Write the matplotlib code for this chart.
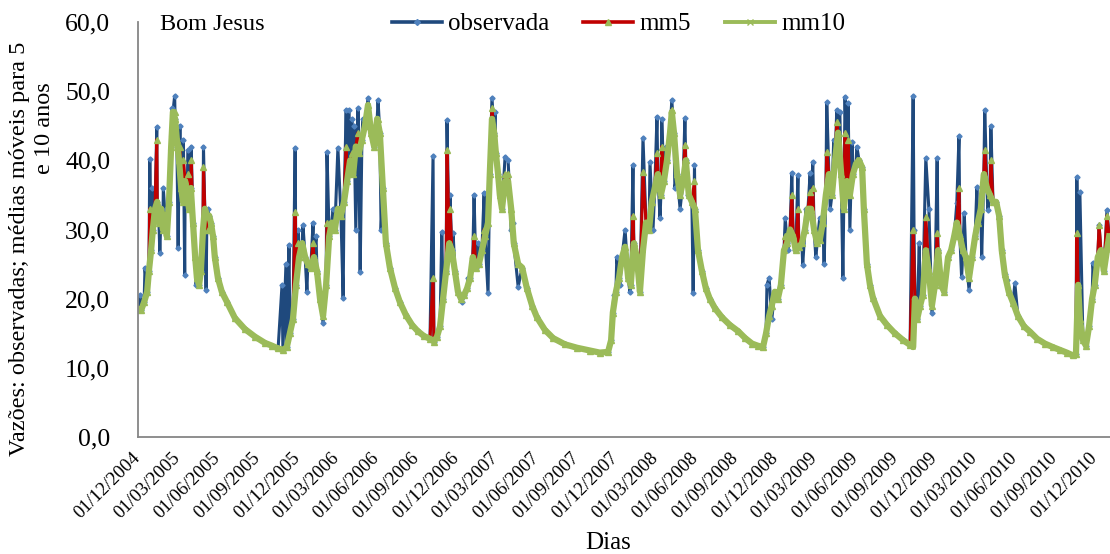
import numpy as np
import matplotlib
matplotlib.use("Agg")
import matplotlib.pyplot as plt
from matplotlib.lines import Line2D

plt.rcParams['font.family'] = ['Liberation Serif', 'DejaVu Serif']

# ---- data: days since 01/12/2004 ----
inicio = np.datetime64('2004-12-01')

# mm10 (smooth band)
dias_mm10 = [0, 7, 14, 21, 25, 30, 34, 39, 44, 48, 53, 57, 62, 66, 71, 76, 80, 85, 89, 94, 99, 103, 108, 112, 117, 121, 126, 131, 135, 140, 144, 149, 153, 158, 163, 167, 172, 176, 183, 192, 204, 222, 245, 268, 291, 307, 321, 332, 341,
             348, 355, 362, 369, 376, 383, 389, 396, 403, 410, 417, 424, 431, 438, 444, 451, 458, 465, 472, 479, 486, 493, 499, 506, 513, 520, 527, 534, 541, 548, 554, 561, 568, 577, 589, 600, 614, 628, 641, 655, 669, 678, 685,
             692, 699, 706, 713, 719, 726, 733, 740, 747, 754, 761, 767, 774, 781, 788, 795, 802, 806, 811, 816, 820, 825, 829, 834, 841, 848, 855, 861, 871, 880, 891, 903, 914, 932, 951, 978, 1006, 1036, 1058, 1077,
             1084, 1088, 1095, 1102, 1109, 1116, 1123, 1129, 1136, 1143, 1150, 1157, 1164, 1171, 1177, 1184, 1191, 1198, 1205, 1212, 1219, 1223, 1228, 1235, 1242, 1249, 1255, 1262, 1269, 1276, 1283, 1292, 1301, 1310, 1322, 1338, 1356, 1375, 1391, 1407, 1420, 1432,
             1439, 1446, 1452, 1459, 1466, 1473, 1480, 1487, 1494, 1501, 1507, 1514, 1521, 1528, 1535, 1542, 1549, 1556, 1562, 1569, 1576, 1583, 1590, 1597, 1604, 1611, 1617, 1624, 1631, 1638, 1645, 1652, 1659, 1663, 1670, 1677, 1684, 1700, 1716, 1734, 1753, 1769, 1776,
             1780, 1785, 1792, 1798, 1805, 1812, 1819, 1826, 1833, 1840, 1847, 1856, 1863, 1870, 1876, 1883, 1890, 1897, 1904, 1911, 1918, 1924, 1931, 1938, 1945, 1952, 1959, 1966, 1973, 1979, 1986, 1995, 2005, 2016, 2030, 2044, 2060, 2078, 2096, 2112, 2128, 2142,
             2149, 2154, 2158, 2165, 2172, 2179, 2186, 2192, 2199, 2206, 2213, 2220, 2225]
mm10 = [18.5, 18.3, 19.5, 21, 24, 27, 30, 33, 34, 31, 33, 30, 32, 29, 34, 42, 47, 46, 43, 40, 36, 34, 37, 35, 33, 36, 31, 26, 23, 22, 24, 30, 33, 32, 32, 31, 29, 26, 23, 21, 19.5, 17.2, 15.6, 14.5, 13.6, 13.2, 12.8, 12.6, 13.0,
        15, 17, 22, 26, 28, 26, 25, 24.5, 26, 24, 20, 17.5, 22, 29, 31, 30, 33, 32, 34, 37, 40, 38, 42, 41, 43, 45, 48, 44, 42, 46, 44, 36, 28, 24.5, 21.5, 19.5, 17.6, 16.2, 15.3, 14.6, 14.2, 13.8, 14.5,
        16, 20, 24, 28, 27, 24, 21, 20, 20.5, 21.5, 23, 26, 24.5, 25, 27, 29, 31, 38, 46, 44, 41, 38, 35, 33, 37, 37, 33, 28, 25, 24.5, 21.5, 19, 17.3, 15.5, 14.3, 13.4, 12.9, 12.5, 12.2, 12.3,
        14, 18, 21, 23, 26, 27.5, 23, 22, 28, 26, 21, 27, 31, 30, 34, 36, 38, 35, 37, 40, 44, 47, 44, 38, 35, 37, 40, 35, 34, 33, 27, 24, 21.5, 20, 18.6, 17.3, 16.2, 15.3, 14.3, 13.5, 13.2, 13.0,
        15, 17.5, 19, 21, 20, 22, 27, 28, 30, 29, 27, 27.5, 28, 30, 33, 33, 30, 28, 28.5, 31, 35, 38, 35, 40, 44, 38, 33, 37, 35, 38, 39.5, 40, 39, 33, 25, 22, 20.1, 17.5, 16.2, 15, 14, 13.3, 13.0,
        20, 17, 19, 20.5, 27, 24, 19, 22, 27, 22, 21, 26, 27, 29, 31, 29, 27, 26, 23, 26, 29, 31, 33, 38, 36, 35, 34, 34, 32, 27, 23.5, 21, 19.4, 17.5, 16, 15.2, 14.2, 13.5, 13.0, 12.6, 12.2, 11.8,
        12, 22, 17, 14, 13.2, 16, 20, 22, 26, 27, 24, 27, 29]

# observada: peaks / dips departing from the band
dias_obs_pico = [5, 16, 27, 32, 43, 50, 58, 64, 78, 84, 92, 96, 104, 107, 115, 122, 133, 150, 156, 160,
                 330, 339, 346, 360, 367, 378, 387, 401, 408, 424, 433, 447, 458, 470, 477, 483, 490, 495, 499, 504, 509, 515, 527, 538, 550, 557,
                 676, 696, 708, 715, 722, 742, 756, 770, 779, 793, 802, 811, 818, 834, 841, 848, 855, 859, 871,
                 1090, 1097, 1104, 1116, 1127, 1134, 1141, 1157, 1173, 1180, 1189, 1196, 1200, 1210, 1223, 1230, 1242, 1253, 1260, 1272, 1275,
                 1441, 1446, 1452, 1483, 1489, 1498, 1505, 1512, 1523, 1530, 1540, 1546, 1553, 1562, 1572, 1578, 1586, 1594, 1601, 1608, 1615, 1620, 1627, 1631, 1636, 1647,
                 1776, 1778, 1790, 1805, 1812, 1819, 1831, 1840, 1876, 1881, 1887, 1893, 1904, 1922, 1933, 1940, 1947, 1954, 1990, 2009,
                 2151, 2158, 2188, 2202, 2220]
obs_pico = [20.5, 24.5, 40.2, 36, 44.8, 26.6, 36, 33, 47.5, 49.3, 27.3, 45, 43, 23.4, 41.5, 42, 22, 42, 21.3, 33,
            22, 25, 27.8, 41.8, 30, 30.6, 21, 31, 29, 16.5, 41.2, 33, 41.8, 20.1, 47.3, 47.3, 46, 45, 30, 47.5, 23.8, 46, 49, 43, 48.7, 30,
            40.6, 29.6, 45.8, 35, 29.5, 19.5, 23, 35, 28, 35.3, 20.8, 49, 47, 33, 40.5, 40, 30, 31, 21.7,
            20.5, 26, 22, 30, 21, 39.3, 25, 43.2, 39.7, 30, 46.3, 31.7, 46, 42, 48.7, 36, 33, 46.1, 35, 20.8, 39.3,
            22, 23, 17, 31.7, 27, 38.2, 27, 37.9, 24.9, 33, 38.2, 39.8, 26, 31.7, 25, 48.4, 33, 43, 47.3, 47, 23, 49.2, 48.3, 30, 42.6, 42,
            49.3, 30, 28, 40.3, 33, 17.9, 40.3, 21.7, 33.8, 43.5, 23.1, 32.4, 21.3, 36.1, 26, 47.3, 32.8, 45, 22.7, 22.2,
            37.6, 35.4, 25.2, 30.6, 32.8]

# mm5: peaks above the band
dias_mm5_pico = [27, 43, 78, 84, 96, 104, 115, 122, 150, 160,
                 360, 367, 401, 433, 458, 477, 490, 504, 527, 550,
                 676, 708, 715, 770, 793, 811, 841, 848,
                 1134, 1157, 1189, 1200, 1223, 1253, 1275,
                 1483, 1498, 1512, 1540, 1546, 1578, 1601, 1620, 1627, 1647,
                 1776, 1805, 1831, 1881, 1940, 1954,
                 2151, 2202, 2220]
mm5_pico = [33, 43, 44, 47, 42, 40, 38, 40, 39, 30,
            32.5, 28, 28, 31, 33, 42, 41, 44, 48, 46,
            23, 41.5, 33, 29, 30, 47.5, 38, 38,
            32, 38.3, 41, 42, 47.3, 42.2, 37,
            29, 35, 33, 35.4, 36, 41.2, 45.5, 44, 43, 40,
            30, 31.8, 29.5, 36, 41.5, 40,
            29.5, 30.6, 32]

ticks_labels = ['01/12/2004', '01/03/2005', '01/06/2005', '01/09/2005', '01/12/2005', '01/03/2006', '01/06/2006',
                '01/09/2006', '01/12/2006', '01/03/2007', '01/06/2007', '01/09/2007', '01/12/2007', '01/03/2008',
                '01/06/2008', '01/09/2008', '01/12/2008', '01/03/2009', '01/06/2009', '01/09/2009', '01/12/2009',
                '01/03/2010', '01/06/2010', '01/09/2010', '01/12/2010']


def serie(db, vb, de, ve):
    d = dict(zip(db, vb))
    d.update(zip(de, ve))
    k = sorted(d)
    return inicio + np.array(k).astype('timedelta64[D]'), np.array([d[i] for i in k])


x10, y10 = serie(dias_mm10, mm10, [], [])
xo, yo = serie(dias_mm10, mm10, dias_obs_pico, obs_pico)
x5, y5 = serie(dias_mm10, mm10, dias_mm5_pico, mm5_pico)

fig = plt.figure(figsize=(11.10, 5.54), dpi=100)
ax = fig.add_axes([138/1110, 1-437/554, 1-138/1110, (437-22)/554])

ax.plot(xo, yo, color='#1F497D', lw=2.2, marker='D', ms=2.6, mfc='#4F81BD', mec='#4F81BD')
ax.plot(x5, y5, color='#C00000', lw=2.2, marker='^', ms=4.5, mfc='#9BBB59', mec='#9BBB59')
ax.plot(x10, y10, color='#9BBB59', lw=4.5, marker='x', ms=3.5, mec='#9BBB59')

ax.set_ylim(0, 60)
ax.set_yticks(np.arange(0, 61, 10))
ax.set_yticklabels([f'{v:.1f}'.replace('.', ',') for v in np.arange(0, 61, 10)], fontsize=18.5)
ax.set_xlim(inicio, inicio + np.timedelta64(2227, 'D'))
tick_dates = [np.datetime64(f'{s[6:]}-{s[3:5]}-{s[0:2]}') for s in ticks_labels]
ax.set_xticks(tick_dates)
ax.set_xticklabels(ticks_labels, rotation=45, ha='right', va='center', rotation_mode='anchor', fontsize=13.5)
ax.tick_params(axis='both', length=0)
ax.tick_params(axis='x', pad=13)
ax.tick_params(axis='y', pad=20)
for s in ['top', 'right']:
    ax.spines[s].set_visible(False)
for s in ['left', 'bottom']:
    ax.spines[s].set_color('#868686')
    ax.spines[s].set_linewidth(1.3)

fig.text(160/1110, 1-25/554, 'Bom Jesus', fontsize=17.5, va='center', ha='left')
fig.text(20/1110, 1-249/554, 'Vazões: observadas; médias móveis para 5', rotation=90, fontsize=17.5, ha='center', va='center')
fig.text(45/1110, 1-128/554, 'e 10 anos', rotation=90, fontsize=17.5, ha='center', va='center')
fig.text(608/1110, 1-543/554, 'Dias', fontsize=18, ha='center', va='center')

handles = [
    Line2D([], [], color='#1F497D', lw=2.6, marker='D', ms=3, mfc='#4F81BD', mec='#4F81BD'),
    Line2D([], [], color='#C00000', lw=2.6, marker='^', ms=5, mfc='#9BBB59', mec='#9BBB59'),
    Line2D([], [], color='#9BBB59', lw=2.8, marker='x', ms=4, mec='#9BBB59'),
]
leg = fig.legend(handles, ['observada', 'mm5', 'mm10'], loc='center left', bbox_to_anchor=(392/1110, 1-24/554),
                 ncol=3, frameon=False, fontsize=18, handlelength=2.0, handletextpad=0.25, columnspacing=1.35,
                 borderpad=0, borderaxespad=0)

fig.savefig('out.png', dpi=100)
